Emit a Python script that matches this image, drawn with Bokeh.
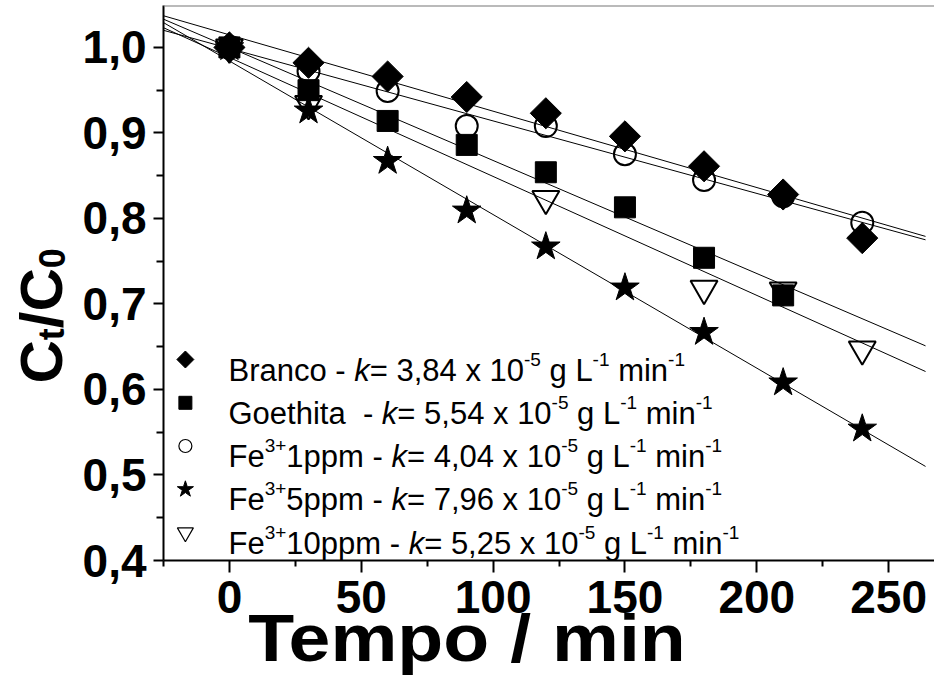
import numpy as np
from bokeh.plotting import figure
from bokeh.layouts import row, column
from bokeh.models import (Range1d, FixedTicker, CustomJSTickFormatter, Label, Span, Div)
from bokeh.embed import file_html
from bokeh.resources import INLINE

# ---------------- data ----------------
time_min = [0, 30, 60, 90, 120, 150, 180, 210, 240]
branco = [1.000, 0.982, 0.966, 0.942, 0.923, 0.896, 0.861, 0.828, 0.777]
goethita_time = [0, 30, 60, 90, 120, 150, 180, 210]
goethita = [1.000, 0.950, 0.914, 0.886, 0.854, 0.813, 0.754, 0.710]
fe1 = [1.000, 0.972, 0.949, 0.908, 0.908, 0.875, 0.845, 0.826, 0.795]
fe5 = [1.000, 0.926, 0.867, 0.809, 0.767, 0.719, 0.667, 0.608, 0.554]
fe10_time = [0, 30, 120, 180, 210, 240]
fe10 = [1.000, 0.934, 0.823, 0.718, 0.716, 0.647]

fit_time = [-25, 264]
fit_branco = [1.037, 0.779]
fit_goethita = [1.033, 0.651]
fit_fe1 = [1.020, 0.775]
fit_fe5 = [1.029, 0.510]
fit_fe10 = [1.023, 0.621]

k_values = ["3,84", "5,54", "4,04", "7,96", "5,25"]

x_ticks = [0, 50, 100, 150, 200, 250]
x_minor = [-25, 25, 75, 125, 175, 225]
y_ticks = [0.4, 0.5, 0.6, 0.7, 0.8, 0.9, 1.0]
y_minor = [0.45, 0.55, 0.65, 0.75, 0.85, 0.95]

FONT = "Liberation Sans"

# ---------------- layout constants (page pixels) ----------------
YLAB_W = 79
FIG_H = 640
BORDER_BOTTOM = 80
FRAME_LEFT_PAGE = 167
FRAME_BOTTOM_PAGE = 568
FRAME_W = 775
FRAME_H = 555
TITLE_H = 52
TITLE_OVERLAP = 33

# ---------------- main figure ----------------
p = figure(width=855, height=FIG_H,
           x_range=Range1d(-25, 267.4), y_range=Range1d(0.4, 1.049),
           output_backend="svg", toolbar_location=None,
           min_border_left=80, min_border_right=0,
           min_border_top=5, min_border_bottom=BORDER_BOTTOM)
p.outline_line_color = None
p.grid.visible = False
p.background_fill_color = "white"
p.extra_x_ranges = {"px": Range1d(0, FRAME_W)}
p.extra_y_ranges = {"px": Range1d(0, FRAME_H)}

p.xaxis.ticker = FixedTicker(ticks=x_ticks, minor_ticks=x_minor)
p.yaxis.ticker = FixedTicker(ticks=y_ticks, minor_ticks=y_minor)
p.yaxis.formatter = CustomJSTickFormatter(code="return tick.toFixed(1).replace('.', ',')")
for ax in (p.xaxis[0], p.yaxis[0]):
    ax.axis_line_width = 2
    ax.axis_line_color = "black"
    ax.major_tick_line_width = 2
    ax.minor_tick_line_width = 2
    ax.major_tick_in = 0
    ax.minor_tick_in = 0
    ax.major_label_text_font = FONT
    ax.major_label_text_font_style = "bold"
    ax.major_label_text_font_size = "46px"
    ax.major_label_text_color = "black"
p.xaxis.major_tick_out = 12
p.xaxis.minor_tick_out = 6
p.xaxis.major_label_standoff = 8
p.yaxis.major_tick_out = 10
p.yaxis.minor_tick_out = 7
p.yaxis.major_label_standoff = 7

p.add_layout(Span(location=1.049, dimension="width", line_color="#777777", line_width=2))

# fit lines
for fv in (fit_branco, fit_goethita, fit_fe1, fit_fe5, fit_fe10):
    p.line(fit_time, fv, line_color="black", line_width=1)

# data points
p.scatter(time_min, branco, marker="square", angle=np.pi / 4, size=22,
          fill_color="black", line_color="black")
p.scatter(goethita_time, goethita, marker="square", size=21,
          fill_color="black", line_color="black")
p.scatter(time_min, fe1, marker="circle", size=22,
          fill_color=None, line_color="black", line_width=2)
p.scatter(time_min, fe5, marker="star", size=30,
          fill_color="black", line_color="black")
p.scatter(fe10_time, fe10, marker="inverted_triangle", size=27,
          fill_color=None, line_color="black", line_width=2)


def fx(page_x):
    return page_x - FRAME_LEFT_PAGE


def fy(page_y):
    return FRAME_BOTTOM_PAGE - page_y


# ---------------- legend (keys drawn in frame pixel space) ----------------
row_centers = [367, 410.3, 453.5, 496.8, 540]
key_x = 189
key_specs = [  # marker, size, angle, fill, line width
    ("square", 12, np.pi / 4, "black", 1),
    ("square", 13, 0, "black", 1),
    ("circle", 13, 0, None, 1.2),
    ("star", 17, 0, "black", 1),
    ("inverted_triangle", 16, 0, None, 1.2),
]
for (mk, sz, ang, fc, lw), c in zip(key_specs, row_centers):
    p.scatter([fx(key_x)], [fy(c)], marker=mk, size=sz, angle=ang,
              fill_color=fc, line_color="black", line_width=lw,
              x_range_name="px", y_range_name="px")

ARIAL = {' ': 278, '\u00a0': 278, '-': 333, '=': 584, '+': 584, ',': 278, '.': 278,
         'x': 500, 'g': 556, 'L': 556, 'm': 833, 'i': 222, 'n': 556, 'B': 667,
         'r': 333, 'a': 556, 'c': 500, 'o': 556, 'G': 778, 'e': 556, 't': 278,
         'h': 556, 'F': 611, 'p': 556, 'k': 500}
ARIAL_BOLD = {'C': 722, '/': 278, 't': 333, '0': 556}


def tw(s, size, table=ARIAL):
    return sum(table.get(ch, 556) for ch in s) * size / 1000.0


LEG_SIZE = 31
SUP_SIZE = 19
SUP_RISE = 11
row_x0 = 232

prefixes = [
    [("Branco - ", "n")],
    [("Goethita\u00a0 - ", "n")],
    [("Fe", "n"), ("3+", "s"), ("1ppm - ", "n")],
    [("Fe", "n"), ("3+", "s"), ("5ppm - ", "n")],
    [("Fe", "n"), ("3+", "s"), ("10ppm - ", "n")],
]
for i, kv in enumerate(k_values):
    pieces = prefixes[i] + [("k", "i"), ("= " + kv + " x 10", "n"), ("-5", "s"),
                            (" g L", "n"), ("-1", "s"), (" min", "n"), ("-1", "s")]
    x = row_x0
    base = row_centers[i] + 10.5
    for txt, kind in pieces:
        size = SUP_SIZE if kind == "s" else LEG_SIZE
        y = base - SUP_RISE if kind == "s" else base
        shown = txt.lstrip(" ")
        x += tw(txt[:len(txt) - len(shown)], size)  # leading spaces are not drawn by SVG
        p.add_layout(Label(x=fx(x), y=fy(y), x_units="screen", y_units="screen",
                           text=shown.rstrip(" "), text_font=FONT,
                           text_font_size=f"{size}px",
                           text_font_style="italic" if kind == "i" else "normal",
                           text_color="black", text_baseline="alphabetic",
                           text_align="left"))
        x += tw(shown, size)

# ---------------- y axis title (separate narrow figure, frames aligned) ----------------
yfig = figure(width=YLAB_W, height=FIG_H, x_range=Range1d(0, YLAB_W),
              y_range=Range1d(0, FRAME_H), x_axis_type=None, y_axis_type=None,
              output_backend="svg", toolbar_location=None, min_border=0,
              min_border_top=5, min_border_bottom=BORDER_BOTTOM)
yfig.outline_line_color = None
yfig.grid.visible = False

YL_LEFT_PAGE = 8


def yx(page_x):
    return page_x - YL_LEFT_PAGE


def yy(page_y):
    return FRAME_BOTTOM_PAGE - page_y


YL_SIZE = 60
YL_SUB = 36
yl_base_x = 49
yl_sub_x = 59
y_cur = 391
for txt, kind in [("C", "n"), ("t", "s"), ("/C", "n"), ("0", "s")]:
    size = YL_SUB if kind == "s" else YL_SIZE
    bx = yl_sub_x if kind == "s" else yl_base_x
    yfig.add_layout(Label(x=yx(bx), y=yy(y_cur), angle=np.pi / 2, text=txt,
                          text_font=FONT, text_font_size=f"{size}px",
                          text_font_style="bold", text_color="black",
                          text_baseline="alphabetic", text_align="left"))
    y_cur -= tw(txt, size, ARIAL_BOLD)

# ---------------- x axis title (overlaps the tick-label band, as in the original) ----------------
xtitle = Div(text="Tempo / min", width=YLAB_W + 855, height=TITLE_H,
             margin=(-TITLE_OVERLAP, 0, 0, 0),
             styles={"font-family": FONT, "font-size": "66px", "font-weight": "bold",
                     "line-height": "62px", "text-align": "center",
                     "color": "black", "white-space": "nowrap",
                     "overflow": "visible", "transform": "scaleX(1.14)"})

layout = column(row(yfig, p), xtitle)
open("out.html", "w").write(file_html(layout, INLINE))
